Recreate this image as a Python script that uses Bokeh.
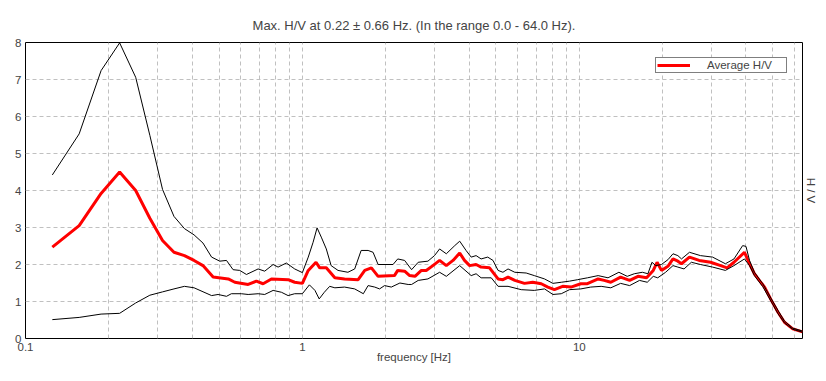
from bokeh.plotting import figure
from bokeh.models import Range1d, FixedTicker, LinearAxis, Legend, LegendItem
from bokeh.embed import file_html
from bokeh.resources import INLINE

TITLE = "Max. H/V at 0.22 \u00b1 0.66 Hz. (In the range 0.0 - 64.0 Hz)."
X_LABEL = "frequency [Hz]"
Y_LABEL = "H / V"
LEGEND_LABEL = "Average H/V"

x_major_ticks = [0.1, 1, 10]
x_minor_ticks = [0.2, 0.3, 0.4, 0.5, 0.6, 0.7, 0.8, 0.9,
                 2, 3, 4, 5, 6, 7, 8, 9,
                 20, 30, 40, 50, 60]
y_ticks = [0, 1, 2, 3, 4, 5, 6, 7, 8]

freq_avg = [0.125, 0.15625, 0.1875, 0.21875, 0.25, 0.28125, 0.3125, 0.34375, 0.375, 0.40625,
            0.4375, 0.476, 0.54, 0.57, 0.637, 0.682, 0.721, 0.773, 0.888, 0.938,
            1.0, 1.05, 1.12, 1.155, 1.22, 1.31, 1.42, 1.59, 1.68, 1.775,
            1.877, 2.15, 2.21, 2.34, 2.44, 2.55, 2.69, 2.80, 2.96, 3.13,
            3.31, 3.50, 3.70, 3.85, 4.02, 4.24, 4.42, 4.74, 5.09, 5.30,
            5.53, 5.85, 6.34, 6.79, 7.29, 7.70, 8.13, 8.71, 9.33, 10.13,
            10.7, 11.7, 12.3, 13.0, 14.1, 15.2, 16.3, 17.5, 18.5, 19.1,
            19.8, 20.9, 21.8, 22.7, 23.4, 25.0, 27.1, 29.8, 32.4, 34.2,
            36.2, 39.5, 41.2, 42.9, 44.7, 46.7, 49.4, 52.2, 55.1, 59.0, 64.0]
hv_avg = [2.47, 3.05, 3.92, 4.50, 4.0, 3.25, 2.65, 2.33, 2.24, 2.11,
          1.97, 1.66, 1.61, 1.52, 1.46, 1.55, 1.48, 1.61, 1.59, 1.52,
          1.49, 1.84, 2.06, 1.91, 1.91, 1.64, 1.61, 1.59, 1.84, 1.91,
          1.68, 1.70, 1.84, 1.82, 1.70, 1.68, 1.84, 1.84, 1.97, 2.11,
          1.97, 2.11, 2.31, 2.11, 1.97, 2.0, 1.93, 1.91, 1.61, 1.59,
          1.66, 1.57, 1.49, 1.52, 1.48, 1.39, 1.32, 1.41, 1.39, 1.48,
          1.48, 1.61, 1.57, 1.52, 1.66, 1.57, 1.68, 1.64, 1.84, 2.06,
          1.84, 1.95, 2.15, 2.09, 2.02, 2.20, 2.11, 2.06, 1.97, 1.91,
          2.06, 2.33, 2.02, 1.75, 1.57, 1.39, 1.03, 0.71, 0.44, 0.26, 0.18]

freq_upper = [0.125, 0.15625, 0.1875, 0.21875, 0.25, 0.28125, 0.3125, 0.34375, 0.375, 0.40625,
              0.4375, 0.47, 0.503, 0.532, 0.562, 0.594, 0.628, 0.692, 0.731, 0.784,
              0.817, 0.875, 0.938, 1.0, 1.05, 1.093, 1.13, 1.17, 1.22, 1.27,
              1.345, 1.46, 1.545, 1.63, 1.727, 1.80, 1.877, 2.125, 2.21, 2.34,
              2.48, 2.62, 2.84, 3.0, 3.13, 3.31, 3.55, 3.70, 3.90, 4.07,
              4.24, 4.42, 4.67, 4.88, 5.09, 5.30, 5.53, 5.85, 6.43, 6.88,
              7.49, 8.03, 8.61, 9.22, 9.87, 10.7, 11.7, 12.7, 13.9, 14.9,
              15.8, 16.9, 17.7, 18.3, 18.9, 19.8, 20.9, 21.8, 22.7, 23.4,
              25.0, 27.4, 30.3, 33.7, 36.2, 38.9, 40.0, 41.2, 42.9, 46.0,
              49.4, 52.2, 55.1, 59.0, 64.0]
hv_upper = [4.42, 5.53, 7.24, 7.99, 7.06, 5.49, 4.03, 3.30, 2.97, 2.80,
            2.58, 2.20, 2.09, 2.11, 1.86, 1.84, 1.73, 1.88, 1.82, 2.0,
            1.93, 2.04, 1.88, 1.78, 2.20, 2.60, 2.99, 2.74, 2.42, 1.97,
            1.84, 1.79, 1.88, 2.38, 2.38, 2.33, 2.0, 2.0, 2.15, 2.11,
            1.86, 2.06, 2.09, 2.24, 2.42, 2.29, 2.51, 2.63, 2.38, 2.20,
            2.24, 2.15, 2.20, 2.11, 1.84, 1.79, 1.88, 1.79, 1.77, 1.70,
            1.61, 1.49, 1.52, 1.55, 1.59, 1.64, 1.70, 1.64, 1.79, 1.68,
            1.75, 1.79, 1.75, 2.06, 1.97, 2.0, 2.13, 2.29, 2.24, 2.15,
            2.33, 2.24, 2.20, 2.02, 2.15, 2.51, 2.49, 2.11, 1.79, 1.48,
            1.07, 0.76, 0.47, 0.28, 0.20]

freq_lower = [0.125, 0.15625, 0.1875, 0.21875, 0.25, 0.28125, 0.3125, 0.34375, 0.375, 0.40625,
              0.47, 0.496, 0.532, 0.554, 0.602, 0.637, 0.692, 0.731, 0.784, 0.84,
              0.888, 0.938, 1.0, 1.06, 1.11, 1.15, 1.20, 1.255, 1.31, 1.42,
              1.545, 1.66, 1.727, 1.825, 1.90, 1.98, 2.095, 2.25, 2.41, 2.48,
              2.62, 2.84, 3.13, 3.31, 3.70, 4.07, 4.24, 4.42, 4.81, 5.09,
              5.53, 6.17, 6.88, 7.49, 8.03, 8.61, 9.22, 10.13, 11.0, 12.0,
              13.0, 14.1, 15.2, 16.5, 17.6, 18.5, 19.2, 20.5, 21.8, 22.7,
              23.9, 25.4, 27.4, 30.3, 33.7, 36.2, 39.5, 41.2, 42.9, 46.0,
              49.4, 52.2, 55.1, 59.0, 64.0]
hv_lower = [0.51, 0.57, 0.66, 0.68, 0.96, 1.17, 1.26, 1.34, 1.41, 1.37,
            1.16, 1.19, 1.14, 1.21, 1.21, 1.19, 1.21, 1.19, 1.30, 1.25,
            1.16, 1.21, 1.21, 1.45, 1.30, 1.07, 1.25, 1.41, 1.37, 1.39,
            1.34, 1.21, 1.43, 1.39, 1.34, 1.43, 1.39, 1.50, 1.46, 1.46,
            1.57, 1.61, 1.79, 1.68, 1.97, 1.70, 1.75, 1.64, 1.64, 1.41,
            1.41, 1.32, 1.30, 1.34, 1.19, 1.21, 1.32, 1.34, 1.39, 1.41,
            1.37, 1.49, 1.43, 1.57, 1.52, 1.68, 1.64, 1.79, 1.97, 1.93,
            1.88, 2.06, 2.0, 1.93, 1.84, 1.97, 2.15, 1.97, 1.70, 1.40,
            0.99, 0.67, 0.42, 0.25, 0.17]

FONT = "Liberation Sans"
GRID = "#c0c0c0"

p = figure(x_axis_type="log", x_range=Range1d(0.1, 64), y_range=Range1d(0, 8),
           frame_width=777, frame_height=296,
           min_border_left=25, min_border_right=24, min_border_top=42, min_border_bottom=43,
           output_backend="svg", toolbar_location=None, title=TITLE)

p.background_fill_color = "white"
p.border_fill_color = "white"
p.outline_line_color = "black"
p.outline_line_width = 1
p.outline_line_alpha = 1

p.title.text_font = FONT
p.title.text_font_style = "normal"
p.title.text_font_size = "13px"
p.title.align = "center"
p.title.standoff = 20

# x axis
xa = p.xaxis[0]
xa.ticker = FixedTicker(ticks=x_major_ticks, minor_ticks=x_minor_ticks)
xa.major_label_overrides = {0.1: "0.1", 1: "1", 10: "10"}
xa.axis_label = X_LABEL
xa.axis_label_text_font = FONT
xa.axis_label_text_font_style = "normal"
xa.axis_label_text_font_size = "11.5px"
xa.axis_label_standoff = -3
xa.major_label_text_font = FONT
xa.major_label_text_font_size = "11.5px"
xa.major_label_standoff = 4
xa.major_tick_out = 0
xa.minor_tick_out = 0
xa.axis_line_color = None
xa.major_tick_line_color = None
xa.minor_tick_line_color = None

ya = p.yaxis[0]
ya.ticker = FixedTicker(ticks=y_ticks)
ya.major_label_text_font = FONT
ya.major_label_text_font_size = "11.5px"
ya.major_label_standoff = 4
ya.major_tick_out = 0
ya.minor_tick_out = 0
ya.axis_line_color = None
ya.major_tick_line_color = None
ya.minor_tick_line_color = None

ra = LinearAxis(ticker=FixedTicker(ticks=[]), axis_label=Y_LABEL,
                axis_line_color=None, major_tick_line_color=None, minor_tick_line_color=None,
                axis_label_standoff=2, axis_label_text_font=FONT,
                axis_label_text_font_style="normal", axis_label_text_font_size="11.5px")
p.add_layout(ra, "right")

for g in (p.xgrid[0], p.ygrid[0]):
    g.grid_line_color = GRID
    g.grid_line_dash = "4 3"
    g.grid_line_width = 1
p.xgrid[0].minor_grid_line_color = GRID
p.xgrid[0].minor_grid_line_dash = "4 3"
p.xgrid[0].minor_grid_line_width = 1

r_avg = p.line(freq_avg, hv_avg, line_color="#ff0000", line_width=3)
p.line(freq_upper, hv_upper, line_color="black", line_width=1)
p.line(freq_lower, hv_lower, line_color="black", line_width=1)

legend = Legend(items=[LegendItem(label=LEGEND_LABEL, renderers=[r_avg])],
                location="top_right")
legend.border_line_color = "black"
legend.border_line_width = 1
legend.background_fill_color = "white"
legend.background_fill_alpha = 1
legend.margin = 15
legend.padding = 1
legend.spacing = 0
legend.glyph_width = 33
legend.glyph_height = 12
legend.label_standoff = 17
legend.label_width = 78
legend.label_height = 12
legend.label_text_font = FONT
legend.label_text_font_size = "11.5px"
p.add_layout(legend)

open("out.html", "w").write(file_html(p, INLINE))
